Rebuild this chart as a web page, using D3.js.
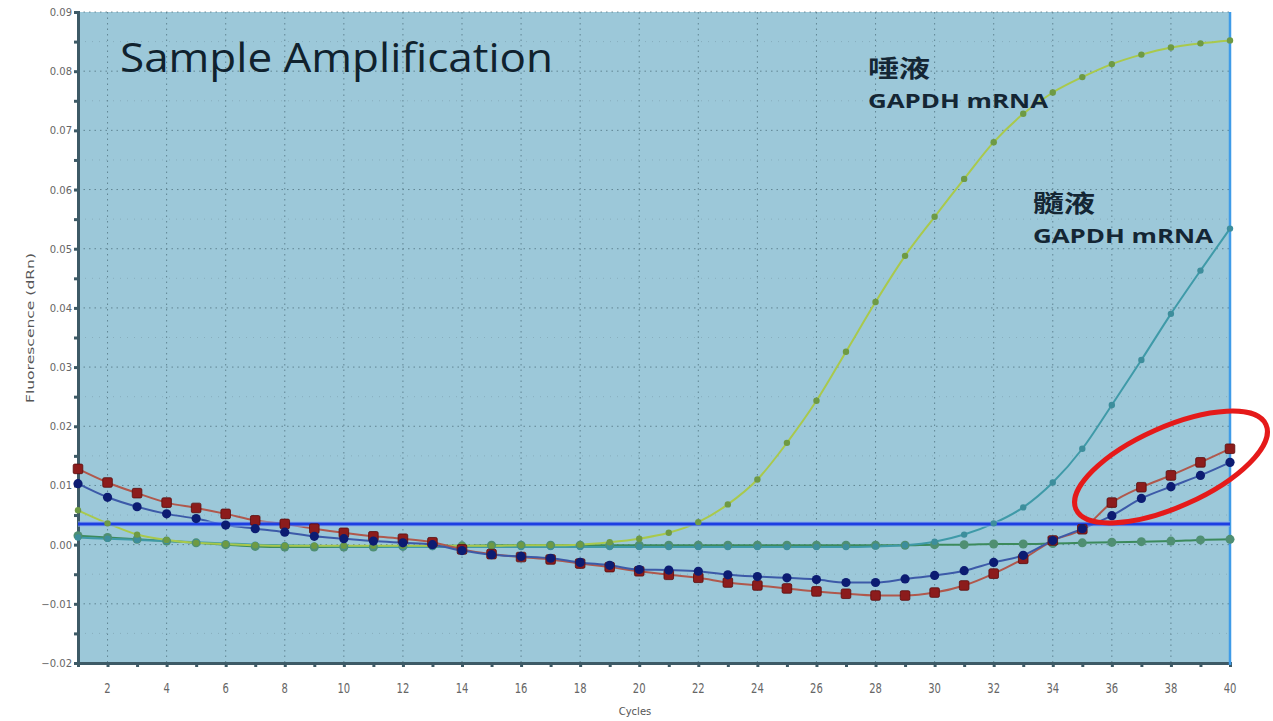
<!DOCTYPE html>
<html>
<head>
<meta charset="utf-8">
<script src="https://cdn.jsdelivr.net/npm/d3@7"></script>
<style>
  body { margin: 0; background: #fff; }
  svg { display: block; }
</style>
</head>
<body>
<svg id="chart" width="1273" height="721"></svg>
<script>
// qPCR amplification plot: saliva / CSF GAPDH mRNA vs two late risers

const cycles = d3.range(1, 41);

const salivaGapdh = [0.0058, 0.0036, 0.0017, 0.0008, 0.0003, 0.0001, -0.0001, -0.0002, -0.0002, -0.0002,
    -0.0002, -0.0002, -0.0002, -0.0002, -0.0002, -0.0001, -0.0001, 0.0000, 0.0004, 0.0010,
    0.0020, 0.0038, 0.0068, 0.0110, 0.0172, 0.0243, 0.0326, 0.0410, 0.0488, 0.0554,
    0.0618, 0.0680, 0.0728, 0.0764, 0.0790, 0.0812, 0.0828, 0.0840, 0.0847, 0.0852];

const csfGapdh = [0.0012, 0.0010, 0.0008, 0.0006, 0.0004, 0.0002, 0.0000, -0.0001, -0.0002, -0.0003,
    -0.0003, -0.0004, -0.0004, -0.0004, -0.0004, -0.0004, -0.0004, -0.0004, -0.0004, -0.0004,
    -0.0004, -0.0004, -0.0004, -0.0004, -0.0004, -0.0004, -0.0004, -0.0003, -0.0001, 0.0005,
    0.0017, 0.0036, 0.0063, 0.0105, 0.0162, 0.0236, 0.0312, 0.0390, 0.0463, 0.0534];

const flatGreen = [0.0015, 0.0012, 0.0009, 0.0006, 0.0003, 0.0000, -0.0003, -0.0004, -0.0004, -0.0004,
    -0.0004, -0.0003, -0.0002, -0.0002, -0.0001, -0.0001, -0.0001, -0.0001, -0.0001, -0.0001,
    -0.0001, -0.0001, -0.0001, -0.0001, -0.0001, -0.0001, -0.0001, -0.0001, -0.0001, 0.0000,
    0.0000, 0.0001, 0.0001, 0.0002, 0.0003, 0.0004, 0.0005, 0.0006, 0.0008, 0.0009];

const redSample = [0.0128, 0.0105, 0.0087, 0.0071, 0.0062, 0.0052, 0.0041, 0.0035, 0.0027, 0.0020,
    0.0014, 0.0010, 0.0004, -0.0008, -0.0016, -0.0021, -0.0025, -0.0032, -0.0038, -0.0045,
    -0.0051, -0.0056, -0.0064, -0.0069, -0.0074, -0.0079, -0.0083, -0.0086, -0.0086, -0.0081,
    -0.0069, -0.0049, -0.0024, 0.0007, 0.0026, 0.0071, 0.0097, 0.0117, 0.0139, 0.0162];

const blueSample = [0.0103, 0.0080, 0.0064, 0.0052, 0.0044, 0.0033, 0.0027, 0.0021, 0.0014, 0.0010,
    0.0006, 0.0003, 0.0000, -0.0010, -0.0017, -0.0020, -0.0023, -0.0030, -0.0035, -0.0042,
    -0.0043, -0.0045, -0.0051, -0.0054, -0.0056, -0.0059, -0.0064, -0.0064, -0.0058, -0.0052,
    -0.0044, -0.0030, -0.0018, 0.0007, 0.0027, 0.0049, 0.0078, 0.0098, 0.0117, 0.0139];

const threshold = 0.0035;
const yTicks = [-0.02, -0.01, 0.00, 0.01, 0.02, 0.03, 0.04, 0.05, 0.06, 0.07, 0.08, 0.09];
const xTicks = d3.range(2, 41, 2);

const svg = d3.select("#chart");
const plotLeft = 78, plotRight = 1230, plotTop = 12, plotBottom = 663;

const x = d3.scaleLinear().domain([1, 40]).range([plotLeft, plotRight]);
const y = d3.scaleLinear().domain([-0.02, 0.09]).range([plotBottom, plotTop]);

// plot background
svg.append("rect")
    .attr("x", plotLeft).attr("y", plotTop)
    .attr("width", plotRight - plotLeft).attr("height", plotBottom - plotTop)
    .attr("fill", "#9cc8d9");

// dotted grid
const grid = svg.append("g").attr("stroke", "#4d6f7c").attr("stroke-dasharray", "1.5,4").attr("opacity", 0.75);
grid.selectAll(".gx").data(xTicks.filter(d => d < 40)).enter().append("line")
    .attr("x1", d => x(d)).attr("x2", d => x(d))
    .attr("y1", plotTop).attr("y2", plotBottom);
grid.selectAll(".gy").data(yTicks.filter(d => d > -0.02)).enter().append("line")
    .attr("x1", plotLeft).attr("x2", plotRight)
    .attr("y1", d => y(d)).attr("y2", d => y(d));

// fainter half-step grid
const minor = svg.append("g").attr("stroke", "#6f8f9c").attr("stroke-dasharray", "1,6").attr("opacity", 0.45);
minor.selectAll("line").data(d3.range(-0.015, 0.09, 0.01)).enter().append("line")
    .attr("x1", plotLeft).attr("x2", plotRight)
    .attr("y1", d => y(d)).attr("y2", d => y(d));

// axes
const yAxis = svg.append("g")
    .attr("transform", `translate(${plotLeft},0)`)
    .call(d3.axisLeft(y).tickValues(d3.range(-0.02, 0.0901, 0.005)).tickSize(4).tickFormat(""));
const xAxis = svg.append("g")
    .attr("transform", `translate(0,${plotBottom})`)
    .call(d3.axisBottom(x).tickValues(cycles).tickSize(4).tickFormat(""));
[yAxis, xAxis].forEach(a => {
    a.select(".domain").attr("stroke", "#3d5a66").attr("stroke-width", 3);
    a.selectAll(".tick line").attr("stroke", "#3d5a66").attr("stroke-width", 3);
});

svg.append("line")
    .attr("x1", plotRight).attr("x2", plotRight).attr("y1", plotTop).attr("y2", plotBottom + 2)
    .attr("stroke", "#3f9be8").attr("stroke-width", 2.5);

// tick labels
svg.append("g").selectAll("text").data(yTicks).enter().append("text")
    .attr("x", plotLeft - 6).attr("y", d => y(d) + 4)
    .attr("text-anchor", "end")
    .attr("font-family", "DejaVu Sans, sans-serif").attr("font-size", 10)
    .attr("fill", "#666")
    .text(d => d3.format(".2f")(d));

svg.append("g").selectAll("text").data(xTicks).enter().append("text")
    .attr("transform", d => `translate(${x(d)},${plotBottom + 30}) scale(1,1.4)`)
    .attr("text-anchor", "middle")
    .attr("font-family", "DejaVu Sans, sans-serif").attr("font-size", 10)
    .attr("fill", "#666")
    .text(d => d);

svg.append("text")
    .attr("x", 635).attr("y", 715)
    .attr("text-anchor", "middle")
    .attr("font-family", "DejaVu Sans, sans-serif").attr("font-size", 10)
    .attr("fill", "#555")
    .text("Cycles");

svg.append("text")
    .attr("transform", "translate(34,328) rotate(-90)")
    .attr("text-anchor", "middle")
    .attr("font-family", "DejaVu Sans, sans-serif").attr("font-size", 10)
    .attr("textLength", 150).attr("lengthAdjust", "spacingAndGlyphs")
    .attr("fill", "#555")
    .text("Fluorescence (dRn)");

// series
const line = d3.line()
    .x((d, i) => x(cycles[i]))
    .y(d => y(d))
    .curve(d3.curveMonotoneX);

const series = [
    { values: flatGreen, line: "#3c8a5c", mark: "#4f8f72", shape: "circle", r: 4.5 },
    { values: csfGapdh, line: "#3f9aa8", mark: "#3d8e9c", shape: "circle", r: 3.2 },
    { values: salivaGapdh, line: "#a9c94c", mark: "#6e9a44", shape: "circle", r: 3.2 },
    { values: redSample, line: "#b0584c", mark: "#8c1c1c", shape: "square", r: 4.8 },
    { values: blueSample, line: "#3c5aa8", mark: "#0c1c72", shape: "circle", r: 4.6 }
];

series.forEach(s => {
    svg.append("path")
        .datum(s.values)
        .attr("d", line)
        .attr("fill", "none")
        .attr("stroke", s.line)
        .attr("stroke-width", 2);
});

// threshold
svg.append("line")
    .attr("x1", plotLeft).attr("x2", plotRight)
    .attr("y1", y(threshold)).attr("y2", y(threshold))
    .attr("stroke", "#8fb0f0").attr("stroke-width", 6).attr("opacity", 0.5);
svg.append("line")
    .attr("x1", plotLeft).attr("x2", plotRight)
    .attr("y1", y(threshold)).attr("y2", y(threshold))
    .attr("stroke", "#1d3ee2").attr("stroke-width", 3);

series.forEach(s => {
    const g = svg.append("g");
    if (s.shape === "square") {
        g.selectAll("rect").data(s.values).enter().append("rect")
            .attr("x", (d, i) => x(cycles[i]) - s.r)
            .attr("y", d => y(d) - s.r)
            .attr("width", s.r * 2).attr("height", s.r * 2)
            .attr("rx", 1.5)
            .attr("fill", s.mark).attr("stroke", "#5a0c0c").attr("stroke-width", 0.8);
    } else {
        g.selectAll("circle").data(s.values).enter().append("circle")
            .attr("cx", (d, i) => x(cycles[i]))
            .attr("cy", d => y(d))
            .attr("r", s.r)
            .attr("fill", s.mark);
    }
});

// title and annotations
svg.append("text")
    .attr("x", 120).attr("y", 72)
    .attr("font-family", "Open Sans, sans-serif").attr("font-size", 40)
    .attr("textLength", 433).attr("lengthAdjust", "spacingAndGlyphs")
    .attr("fill", "#10222e")
    .text("Sample Amplification");

const notes = [
    { x: 868, y: 77, text: "唾液", size: 24, len: 62, cjk: true },
    { x: 868, y: 108, text: "GAPDH mRNA", size: 20, len: 180, cjk: false },
    { x: 1033, y: 212, text: "髓液", size: 24, len: 62, cjk: true },
    { x: 1033, y: 243, text: "GAPDH mRNA", size: 20, len: 180, cjk: false }
];
svg.append("g").selectAll("text").data(notes).enter().append("text")
    .attr("x", d => d.x).attr("y", d => d.y)
    .attr("font-family", d => d.cjk ? "Noto Sans CJK TC, sans-serif" : "Open Sans, sans-serif")
    .attr("font-weight", "bold")
    .attr("font-size", d => d.size)
    .attr("textLength", d => d.len).attr("lengthAdjust", "spacingAndGlyphs")
    .attr("fill", "#142634")
    .text(d => d.text);

// red highlight ellipse
svg.append("ellipse")
    .attr("cx", 1171).attr("cy", 467)
    .attr("rx", 104).attr("ry", 40)
    .attr("transform", "rotate(-24,1171,467)")
    .attr("fill", "none")
    .attr("stroke", "#e51a1a")
    .attr("stroke-width", 5);
</script>
</body>
</html>
